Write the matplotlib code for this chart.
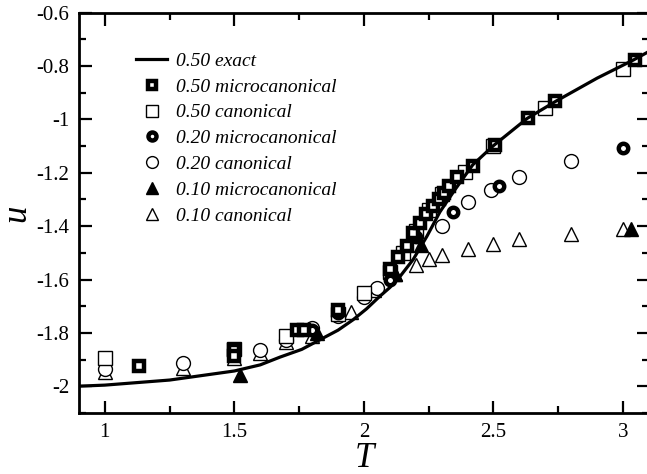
import matplotlib.pyplot as plt
from matplotlib.ticker import MultipleLocator

plt.rcParams['font.family'] = ['Liberation Serif', 'DejaVu Serif']

# exact curve
T_exact = [0.9, 1.0, 1.25, 1.5, 1.6, 1.676, 1.76, 1.83, 1.9, 1.958, 2.01,
           2.06, 2.1, 2.139, 2.19, 2.243, 2.293, 2.35, 2.42, 2.5, 2.63, 2.74,
           2.9, 3.04, 3.1]
u_exact = [-2.0, -1.996, -1.977, -1.943, -1.92, -1.891, -1.862, -1.826, -1.79,
           -1.751, -1.71, -1.664, -1.63, -1.589, -1.525, -1.438, -1.347, -1.265,
           -1.17, -1.098, -0.996, -0.932, -0.845, -0.777, -0.745]

T_50m = [1.13, 1.50, 1.50, 1.74, 1.77, 1.90, 2.10, 2.13, 2.166, 2.19,
         2.216, 2.24, 2.266, 2.29, 2.31, 2.33, 2.36, 2.42, 2.506, 2.633,
         2.737, 3.046]
u_50m = [-1.925, -1.865, -1.885, -1.79, -1.79, -1.713, -1.56, -1.517, -1.475,
         -1.425, -1.39, -1.355, -1.325, -1.30, -1.275, -1.25, -1.215,
         -1.175, -1.094, -0.996, -0.932, -0.777]

T_50c = [1.0, 1.5, 1.7, 1.9, 2.0, 2.1, 2.15, 2.2, 2.25, 2.3, 2.39, 2.5, 2.70, 3.0]
u_50c = [-1.895, -1.86, -1.81, -1.73, -1.65, -1.57, -1.50, -1.42, -1.34,
         -1.28, -1.196, -1.10, -0.958, -0.81]

T_20m = [1.5, 1.8, 1.9, 2.1, 2.2, 2.345, 2.52, 3.0]
u_20m = [-1.875, -1.79, -1.725, -1.60, -1.44, -1.347, -1.25, -1.106]

T_20c = [1.0, 1.3, 1.6, 1.7, 1.8, 1.9, 2.0, 2.05, 2.2, 2.3, 2.40, 2.49, 2.6, 2.8]
u_20c = [-1.935, -1.913, -1.865, -1.826, -1.78, -1.735, -1.665, -1.63, -1.47,
         -1.40, -1.31, -1.264, -1.215, -1.155]

T_10m = [1.52, 1.82, 2.12, 2.22, 3.03]
u_10m = [-1.958, -1.80, -1.58, -1.47, -1.41]

T_10c = [1.0, 1.3, 1.5, 1.6, 1.7, 1.8, 1.95, 2.04, 2.12, 2.2, 2.25, 2.30,
         2.40, 2.50, 2.60, 2.80, 3.0]
u_10c = [-1.947, -1.93, -1.895, -1.875, -1.835, -1.81, -1.72, -1.64, -1.58,
         -1.545, -1.525, -1.51, -1.487, -1.468, -1.45, -1.43, -1.41]

fig = plt.figure(figsize=(6.47, 4.74), dpi=100)
ax = fig.add_axes([0.122, 0.129, 0.881, 0.844])

thin = dict(ls='none', mfc='white', mec='black', mew=1.0, ms=10)
thick = dict(ls='none', mfc='white', mec='black', mew=3.2, ms=6.8)

ax.plot(T_exact, u_exact, 'k-', lw=2.3, label='0.50 exact', zorder=5)
ax.plot(T_10c, u_10c, marker='^', label='0.10 canonical', **thin)
ax.plot(T_20c, u_20c, marker='o', label='0.20 canonical', **thin)
ax.plot(T_50c, u_50c, marker='s', label='0.50 canonical', **thin)
ax.plot(T_10m, u_10m, marker='^', ls='none', mfc='black', mec='black', ms=10,
        label='0.10 microcanonical')
ax.plot(T_20m, u_20m, marker='o', label='0.20 microcanonical', **thick)
ax.plot(T_50m, u_50m, marker='s', label='0.50 microcanonical', **thick)

ax.set_xlim(0.9, 3.1)
ax.set_ylim(-2.1, -0.6)
ax.xaxis.set_minor_locator(MultipleLocator(0.25))
ax.yaxis.set_minor_locator(MultipleLocator(0.1))
ax.set_xticks([1, 1.5, 2, 2.5, 3])
ax.set_xticklabels(['1', '1.5', '2', '2.5', '3'])
ax.set_yticks([-2, -1.8, -1.6, -1.4, -1.2, -1, -0.8, -0.6])
ax.set_yticklabels(['-2', '-1.8', '-1.6', '-1.4', '-1.2', '-1', '-0.8', '-0.6'])
ax.tick_params(which='both', direction='in', top=True, right=True,
               labelsize=15, width=1.6, pad=7)
ax.tick_params(which='major', length=9)
ax.tick_params(which='minor', length=5)
for s in ax.spines.values():
    s.set_linewidth(2)

ax.set_xlabel('T', fontsize=25, style='italic', labelpad=0)
ax.set_ylabel('u', fontsize=25, style='italic', labelpad=2)

h, l = ax.get_legend_handles_labels()
order = ['0.50 exact', '0.50 microcanonical', '0.50 canonical',
         '0.20 microcanonical', '0.20 canonical', '0.10 microcanonical',
         '0.10 canonical']
hd = dict(zip(l, h))
leg = ax.legend([hd[k] for k in order], order, loc='upper left',
                bbox_to_anchor=(0.07, 0.945), frameon=False,
                prop={'style': 'italic', 'size': 14}, handlelength=1.6,
                handletextpad=0.45, labelspacing=0.42, markerscale=0.85)

fig.savefig('out.png', dpi=100)
